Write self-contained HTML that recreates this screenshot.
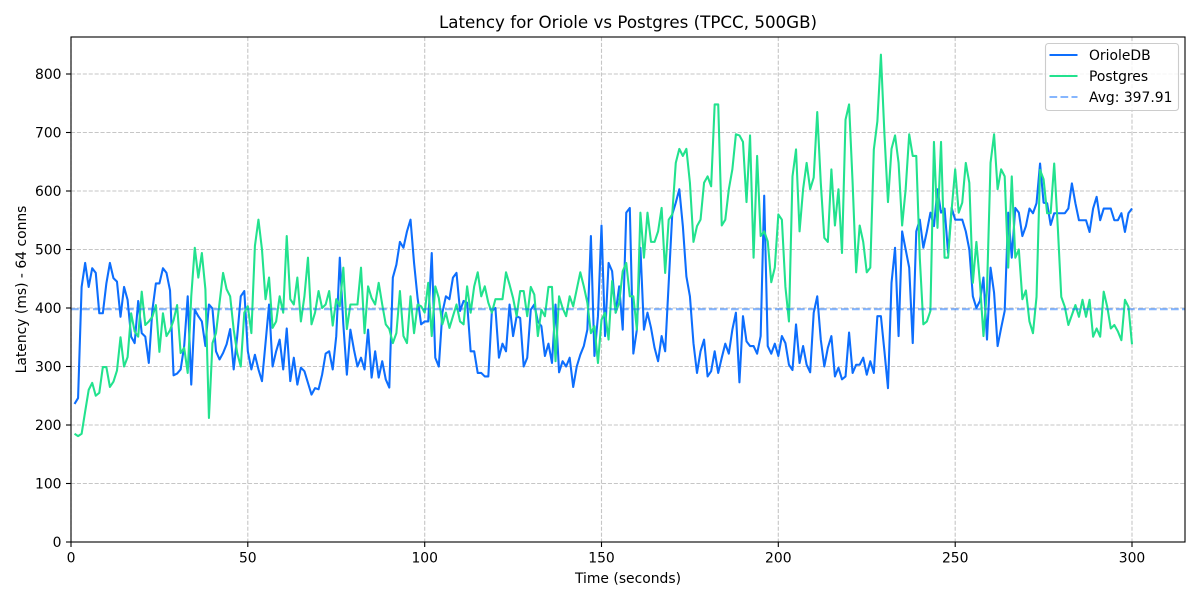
<!DOCTYPE html>
<html><head><meta charset="utf-8"><style>
html,body{margin:0;padding:0;background:#fff;}
svg{display:block;font-family:"DejaVu Sans","Liberation Sans",sans-serif;}
</style></head><body>
<svg width="1200" height="600" viewBox="0 0 1200 600" xmlns="http://www.w3.org/2000/svg">
<rect width="1200" height="600" fill="#fff"/>
<g stroke="#c6c6c6" stroke-width="1.1" stroke-dasharray="4.1,1.8" fill="none">
<line x1="71" y1="37" x2="71" y2="542"/><line x1="247.8" y1="37" x2="247.8" y2="542"/><line x1="424.7" y1="37" x2="424.7" y2="542"/><line x1="601.5" y1="37" x2="601.5" y2="542"/><line x1="778.3" y1="37" x2="778.3" y2="542"/><line x1="955.2" y1="37" x2="955.2" y2="542"/><line x1="1132" y1="37" x2="1132" y2="542"/>
<line x1="71" y1="542" x2="1185" y2="542"/><line x1="71" y1="483.5" x2="1185" y2="483.5"/><line x1="71" y1="425" x2="1185" y2="425"/><line x1="71" y1="366.5" x2="1185" y2="366.5"/><line x1="71" y1="308" x2="1185" y2="308"/><line x1="71" y1="249.5" x2="1185" y2="249.5"/><line x1="71" y1="191" x2="1185" y2="191"/><line x1="71" y1="132.5" x2="1185" y2="132.5"/><line x1="71" y1="74" x2="1185" y2="74"/>
</g>
<g transform="translate(71,542) scale(3.5367,-0.585)" fill="none" stroke-linejoin="round" stroke-linecap="butt">
<polyline vector-effect="non-scaling-stroke" stroke="#0d6efd" stroke-width="2.08" points="1,236 2,246 3,436 4,477 5,436 6,468 7,460 8,391 9,391 10,442 11,477 12,451 13,445 14,385 15,436 16,414 17,351 18,340 19,412 20,357 21,351 22,306 23,396 24,442 25,442 26,468 27,460 28,430 29,285 30,288 31,295 32,335 33,420 34,269 35,397 36,386 37,377 38,335 39,406 40,399 41,326 42,312 43,323 44,338 45,364 46,295 47,352 48,420 49,429 50,326 51,295 52,320 53,295 54,275 55,340 56,406 57,300 58,326 59,346 60,295 61,365 62,275 63,315 64,269 65,298 66,292 67,272 68,252 69,263 70,261 71,286 72,322 73,326 74,295 75,352 76,486 77,372 78,286 79,363 80,329 81,300 82,315 83,295 84,363 85,281 86,326 87,281 88,309 89,278 90,264 91,452 92,474 93,513 94,503 95,531 96,551 97,477 98,417 99,372 100,377 101,377 102,494 103,315 104,300 105,392 106,420 107,415 108,452 109,460 110,395 111,412 112,409 113,326 114,326 115,289 116,289 117,283 118,283 119,395 120,400 121,315 122,339 123,326 124,406 125,352 126,386 127,383 128,300 129,315 130,397 131,406 132,377 133,369 134,318 135,339 136,306 137,406 138,290 139,309 140,300 141,315 142,265 143,300 144,320 145,335 146,363 147,523 148,318 149,386 150,541 151,352 152,477 153,463 154,392 155,437 156,363 157,563 158,571 159,322 160,363 161,503 162,363 163,392 164,366 165,332 166,309 167,352 168,326 169,443 170,560 171,580 172,603 173,540 174,454 175,420 176,340 177,289 178,326 179,346 180,283 181,292 182,326 183,289 184,315 185,339 186,322 187,363 188,392 189,273 190,386 191,343 192,335 193,335 194,322 195,352 196,592 197,335 198,322 199,339 200,318 201,352 202,340 203,303 204,294 205,372 206,306 207,335 208,303 209,290 210,392 211,420 212,346 213,300 214,332 215,352 216,283 217,298 218,278 219,283 220,358 221,289 222,303 223,303 224,315 225,286 226,309 227,289 228,386 229,386 230,326 231,263 232,443 233,503 234,352 235,531 236,500 237,469 238,340 239,531 240,551 241,503 242,531 243,563 244,540 245,603 246,563 247,570 248,494 249,571 250,551 251,551 252,551 253,531 254,500 255,420 256,400 257,412 258,452 259,346 260,469 261,426 262,335 263,366 264,395 265,563 266,486 267,571 268,563 269,523 270,540 271,570 272,562 273,579 274,647 275,580 276,579 277,542 278,562 279,562 280,562 281,562 282,570 283,613 284,579 285,550 286,550 287,550 288,530 289,570 290,590 291,550 292,570 293,570 294,570 295,550 296,550 297,562 298,530 299,562 300,570"/>
<polyline vector-effect="non-scaling-stroke" stroke="#22e28e" stroke-width="2.08" points="1,185 2,181 3,185 4,223 5,260 6,272 7,250 8,255 9,299 10,299 11,265 12,274 13,293 14,350 15,300 16,316 17,391 18,360 19,351 20,428 21,371 22,377 23,385 24,405 25,325 26,391 27,352 28,362 29,379 30,405 31,323 32,332 33,289 34,420 35,503 36,452 37,494 38,432 39,212 40,340 41,357 42,409 43,460 44,432 45,420 46,363 47,323 48,300 49,392 50,403 51,357 52,506 53,551 54,500 55,415 56,452 57,366 58,377 59,420 60,392 61,523 62,415 63,406 64,452 65,377 66,420 67,486 68,372 69,392 70,429 71,400 72,406 73,429 74,370 75,415 76,403 77,469 78,364 79,406 80,406 81,406 82,469 83,357 84,437 85,417 86,406 87,443 88,406 89,372 90,364 91,340 92,357 93,429 94,352 95,340 96,420 97,357 98,406 99,403 100,392 101,443 102,352 103,437 104,417 105,372 106,392 107,366 108,386 109,406 110,377 111,372 112,437 113,392 114,437 115,461 116,420 117,437 118,409 119,392 120,415 121,415 122,415 123,461 124,440 125,417 126,386 127,429 128,429 129,386 130,436 131,423 132,352 133,397 134,386 135,436 136,436 137,309 138,420 139,400 140,386 141,420 142,403 143,432 144,461 145,437 146,409 147,357 148,369 149,306 150,380 151,392 152,346 153,446 154,392 155,409 156,463 157,477 158,420 159,420 160,363 161,563 162,486 163,563 164,513 165,513 166,531 167,571 168,460 169,551 170,560 171,648 172,672 173,660 174,672 175,614 176,513 177,540 178,551 179,614 180,625 181,608 182,748 183,748 184,541 185,551 186,603 187,637 188,697 189,695 190,684 191,581 192,695 193,486 194,660 195,523 196,531 197,514 198,444 199,469 200,560 201,551 202,436 203,377 204,625 205,671 206,531 207,603 208,648 209,603 210,623 211,735 212,614 213,520 214,513 215,637 216,541 217,603 218,494 219,722 220,748 221,614 222,461 223,541 224,513 225,461 226,469 227,671 228,719 229,833 230,697 231,581 232,672 233,695 234,648 235,541 236,603 237,697 238,660 239,660 240,485 241,372 242,377 243,395 244,684 245,537 246,684 247,486 248,486 249,568 250,637 251,563 252,580 253,648 254,614 255,443 256,513 257,443 258,352 259,432 260,648 261,697 262,603 263,637 264,625 265,469 266,625 267,486 268,500 269,415 270,430 271,377 272,357 273,419 274,636 275,620 276,562 277,562 278,647 279,540 280,419 281,402 282,371 283,388 284,405 285,385 286,414 287,385 288,414 289,351 290,365 291,351 292,428 293,402 294,365 295,371 296,360 297,345 298,414 299,402 300,338"/>
</g>
<line x1="71" y1="309.2" x2="1185" y2="309.2" stroke="#0d6efd" stroke-opacity="0.5" stroke-width="2.08" stroke-dasharray="7.7,3.3"/>
<g stroke="#000" stroke-width="1.1" fill="none">
<rect x="71" y="37" width="1114" height="505"/>
<line x1="71" y1="542" x2="71" y2="547"/><line x1="247.8" y1="542" x2="247.8" y2="547"/><line x1="424.7" y1="542" x2="424.7" y2="547"/><line x1="601.5" y1="542" x2="601.5" y2="547"/><line x1="778.3" y1="542" x2="778.3" y2="547"/><line x1="955.2" y1="542" x2="955.2" y2="547"/><line x1="1132" y1="542" x2="1132" y2="547"/>
<line x1="66" y1="542" x2="71" y2="542"/><line x1="66" y1="483.5" x2="71" y2="483.5"/><line x1="66" y1="425" x2="71" y2="425"/><line x1="66" y1="366.5" x2="71" y2="366.5"/><line x1="66" y1="308" x2="71" y2="308"/><line x1="66" y1="249.5" x2="71" y2="249.5"/><line x1="66" y1="191" x2="71" y2="191"/><line x1="66" y1="132.5" x2="71" y2="132.5"/><line x1="66" y1="74" x2="71" y2="74"/>
</g>
<g font-size="13.9" fill="#000" text-anchor="middle">
<text x="71" y="562.5">0</text><text x="247.8" y="562.5">50</text><text x="424.7" y="562.5">100</text><text x="601.5" y="562.5">150</text><text x="778.3" y="562.5">200</text><text x="955.2" y="562.5">250</text><text x="1132" y="562.5">300</text>
</g>
<g font-size="13.9" fill="#000" text-anchor="end">
<text x="61.5" y="547">0</text><text x="61.5" y="488.5">100</text><text x="61.5" y="430">200</text><text x="61.5" y="371.5">300</text><text x="61.5" y="313">400</text><text x="61.5" y="254.5">500</text><text x="61.5" y="196">600</text><text x="61.5" y="137.5">700</text><text x="61.5" y="79">800</text>
</g>
<text x="628" y="28" font-size="16.7" text-anchor="middle" fill="#000">Latency for Oriole vs Postgres (TPCC, 500GB)</text>
<text x="628" y="583" font-size="13.9" text-anchor="middle" fill="#000">Time (seconds)</text>
<text transform="translate(26,289.5) rotate(-90)" font-size="13.9" text-anchor="middle" fill="#000">Latency (ms) - 64 conns</text>
<rect x="1045.5" y="43.5" width="133" height="67" rx="3" ry="3" fill="#fff" fill-opacity="0.8" stroke="#cccccc" stroke-width="1.1"/>
<line x1="1049.5" y1="55" x2="1077.5" y2="55" stroke="#0d6efd" stroke-width="2.08"/>
<line x1="1049.5" y1="76" x2="1077.5" y2="76" stroke="#22e28e" stroke-width="2.08"/>
<line x1="1049.5" y1="97" x2="1077.5" y2="97" stroke="#0d6efd" stroke-opacity="0.5" stroke-width="2.08" stroke-dasharray="7.7,3.3"/>
<g font-size="13.9" fill="#000">
<text x="1089" y="60">OrioleDB</text>
<text x="1089" y="81">Postgres</text>
<text x="1089" y="102">Avg: 397.91</text>
</g>
</svg>
</body></html>
